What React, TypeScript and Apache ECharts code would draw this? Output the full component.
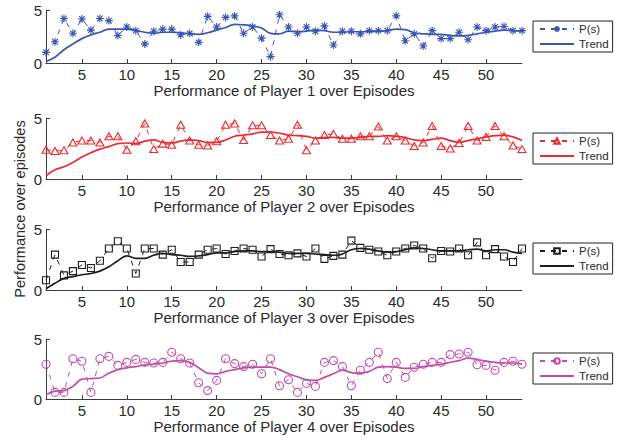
import React, { useEffect, useRef } from "react";
import * as echarts from "echarts";

const episodes = [1,2,3,4,5,6,7,8,9,10,11,12,13,14,15,16,17,18,19,20,21,22,23,24,25,26,27,28,29,30,31,32,33,34,35,36,37,38,39,40,41,42,43,44,45,46,47,48,49,50,51,52,53,54];
const xTicks = [5,10,15,20,25,30,35,40,45,50];
const yTicks = [0,5];

const p1 = [1.0,2.0,4.2,2.8,4.15,3.1,4.2,4.0,2.6,3.4, 3.05,1.8,3.0,3.2,3.2,2.65,2.8,1.95,4.4,3.4, 4.3,4.45,2.8,3.4,2.35,0.6,4.55,3.4,2.8,3.4, 3.0,3.5,1.7,3.0,3.0,2.75,3.05,3.05,3.05,4.45, 2.1,2.75,1.6,3.05,2.3,2.3,2.9,2.2,3.4,3.05, 3.4,3.45,3.05,3.05];
const t1 = [0.15,0.55,1.25,1.8,2.3,2.65,2.9,3.2,3.2,3.2, 3.05,2.9,2.8,2.9,2.9,2.85,2.75,2.7,2.85,3.1, 3.35,3.65,3.6,3.5,3.3,2.8,2.75,3.0,2.95,3.0, 3.1,3.05,2.9,2.9,2.95,2.95,2.95,3.0,3.05,3.2, 3.15,2.85,2.75,2.7,2.7,2.6,2.55,2.6,2.75,2.9, 3.0,3.1,3.05,3.0];

const p2 = [2.4,2.3,2.35,3.0,3.15,3.15,3.0,3.5,3.5,2.4, 3.1,4.55,2.45,2.9,2.8,4.45,3.15,2.8,2.75,3.1, 4.45,4.55,3.2,4.4,4.4,3.6,3.15,3.3,4.45,2.35, 3.15,3.6,3.7,3.3,3.3,3.5,3.5,4.3,3.15,3.5, 3.15,2.7,3.0,4.35,2.7,2.5,2.95,4.35,3.15,3.45, 4.35,3.5,2.75,2.45];
const t2 = [0.25,0.75,1.0,1.35,1.8,2.15,2.45,2.65,2.9,2.95, 2.9,3.1,3.2,3.0,2.95,3.1,3.2,3.15,3.0,3.0, 3.2,3.5,3.6,3.7,3.85,3.85,3.75,3.6,3.55,3.5, 3.35,3.4,3.4,3.35,3.35,3.4,3.5,3.5,3.55,3.5, 3.4,3.2,3.15,3.25,3.35,3.15,3.0,3.15,3.3,3.45, 3.55,3.6,3.45,3.15];

const p3 = [0.8,2.9,1.2,1.55,2.05,1.8,2.4,3.4,4.0,3.4, 1.35,3.4,3.4,2.9,3.3,2.3,2.3,2.9,3.3,3.4, 2.95,3.2,3.4,3.3,2.75,3.35,2.95,2.85,3.0,2.75, 3.4,2.55,2.8,2.9,4.05,3.45,3.3,3.15,2.85,3.15, 3.4,3.65,3.4,2.6,3.2,3.15,3.4,2.85,3.9,2.85, 3.35,2.75,2.3,3.4];
const t3 = [0.1,0.55,0.95,1.1,1.25,1.35,1.55,1.9,2.4,2.8, 2.6,2.6,2.85,3.0,2.9,2.85,2.75,2.8,2.9,3.05, 3.05,3.15,3.2,3.2,3.15,3.15,3.1,3.0,3.0,3.0, 2.95,2.9,2.85,2.95,3.3,3.4,3.35,3.2,3.1,3.15, 3.3,3.45,3.4,3.3,3.2,3.2,3.2,3.3,3.35,3.2, 3.3,3.3,3.1,3.0];

const p4 = [2.9,0.55,0.55,3.35,3.15,0.55,3.35,3.55,2.8,3.05, 3.3,3.05,3.0,3.05,3.9,3.35,3.0,1.35,0.7,1.55, 3.35,2.95,2.7,2.9,2.1,3.35,1.1,1.6,0.55,1.3, 1.05,3.05,3.2,2.7,1.1,2.4,3.05,3.9,1.7,3.05, 1.8,2.65,2.9,3.05,3.05,3.7,3.75,3.9,2.85,2.8, 2.4,3.05,3.15,2.9];
const t4 = [0.35,0.65,0.7,1.05,1.65,1.7,1.75,2.15,2.45,2.6, 2.7,2.85,2.9,3.0,3.15,3.2,3.05,2.6,2.15,2.1, 2.3,2.45,2.6,2.65,2.65,2.65,2.45,2.1,1.85,1.6, 1.55,1.8,2.1,2.4,2.2,2.15,2.3,2.65,2.7,2.65, 2.55,2.55,2.7,2.8,2.9,3.05,3.2,3.4,3.3,3.15, 3.05,3.0,3.0,2.9];

const playerNames = ["Player 1", "Player 2", "Player 3", "Player 4"];
const perfSeries = [p1, p2, p3, p4];
const trendSeries = [t1, t2, t3, t4];

const FONT = "'Liberation Sans', Arial, Helvetica, sans-serif";
const colors = ["#3a55b4", "#ee2a30", "#1e1e1e", "#c24ca6"];
const symbols = [
  "path://M0,-10L0,10M-10,0L10,0M-7,-7L7,7M-7,7L7,-7",
  "path://M0,-10L10,8L-10,8Z",
  "path://M-10,-10L10,-10L10,10L-10,10Z",
  "path://M-10,0A10,10 0 1,0 10,0A10,10 0 1,0 -10,0Z",
];
const symbolSizes = [8, [8, 7], 7, 8];
const grids = [
  { top: 10, height: 53 },
  { top: 118, height: 61 },
  { top: 229, height: 61 },
  { top: 339, height: 60 },
];
const legendTops = [21, 133, 243, 353];

export default function App() {
  const ref = useRef<HTMLDivElement>(null);
  useEffect(() => {
    if (!ref.current) return;
    const chart = echarts.init(ref.current, undefined, { renderer: "svg" });
    const axisColor = "#3c3c3c";
    const textColor = "#2a2a2a";
    const option: any = {
      animation: false,
      backgroundColor: "#ffffff",
      textStyle: { fontFamily: FONT },
      grid: grids.map((g) => ({ left: 46, right: 99, top: g.top, height: g.height, containLabel: false })),
      xAxis: grids.map((_, i) => ({
        type: "value",
        gridIndex: i,
        min: 1,
        max: 54,
        name: `Performance of ${playerNames[i]} over Episodes`,
        nameLocation: "middle",
        nameGap: 19,
        nameTextStyle: { fontSize: 15, color: textColor, fontFamily: FONT },
        axisLine: { show: true, lineStyle: { color: axisColor, width: 1 } },
        axisTick: { show: true, inside: true, length: 4, customValues: xTicks, lineStyle: { color: axisColor } },
        axisLabel: { show: true, customValues: xTicks, fontSize: 15, color: textColor, margin: 4, fontFamily: FONT },
        splitLine: { show: false },
      })),
      yAxis: grids.map((_, i) => ({
        type: "value",
        gridIndex: i,
        min: 0,
        max: 5,
        interval: 5,
        axisLine: { show: true, lineStyle: { color: axisColor, width: 1 } },
        axisTick: { show: true, inside: true, length: 4, customValues: yTicks, lineStyle: { color: axisColor } },
        axisLabel: { show: true, customValues: yTicks, fontSize: 15, color: textColor, margin: 4, fontFamily: FONT },
        splitLine: { show: false },
      })),
      legend: grids.map((_, i) => ({
        orient: "vertical",
        left: 533,
        top: legendTops[i],
        padding: [2, 4, 2, 6],
        itemGap: 3,
        itemWidth: 34,
        itemHeight: 7,
        borderColor: "#222",
        borderWidth: 1,
        backgroundColor: "#fff",
        selectedMode: false,
        textStyle: { fontSize: 11.5, color: textColor, fontFamily: FONT },
        formatter: (n: string) => n.split("#")[0],
        data: [
          { name: `P(s)#${i + 1}` },
          { name: `Trend#${i + 1}`, itemStyle: { opacity: 0 } },
        ],
      })),
      graphic: [
        {
          type: "text",
          x: 20,
          y: 209,
          rotation: Math.PI / 2,
          style: {
            text: "Performance over episodes",
            fontSize: 14.5,
            fontFamily: FONT,
            fill: textColor,
            align: "center",
            verticalAlign: "middle",
          },
        },
      ],
      series: [] as any[],
    };
    for (let i = 0; i < 4; i++) {
      option.series.push({
        name: `P(s)#${i + 1}`,
        type: "line",
        xAxisIndex: i,
        yAxisIndex: i,
        data: episodes.map((e, k) => [e, perfSeries[i][k]]),
        symbol: symbols[i],
        symbolSize: symbolSizes[i],
        showAllSymbol: true,
        lineStyle: { color: colors[i], width: 1, type: [5, 6] },
        itemStyle: { color: "rgba(255,255,255,0)", borderColor: colors[i], borderWidth: 1.1 },
        z: 3,
      });
      option.series.push({
        name: `Trend#${i + 1}`,
        type: "line",
        xAxisIndex: i,
        yAxisIndex: i,
        data: episodes.map((e, k) => [e, trendSeries[i][k]]),
        symbol: "none",
        smooth: 0.4,
        lineStyle: { color: colors[i], width: 1.7 },
        itemStyle: { color: colors[i] },
        z: 2,
      });
    }
    chart.setOption(option);
    return () => chart.dispose();
  }, []);
  return (
    <div
      ref={ref}
      style={{ position: "fixed", left: 0, top: 0, width: 621, height: 443, background: "#fff" }}
    />
  );
}
